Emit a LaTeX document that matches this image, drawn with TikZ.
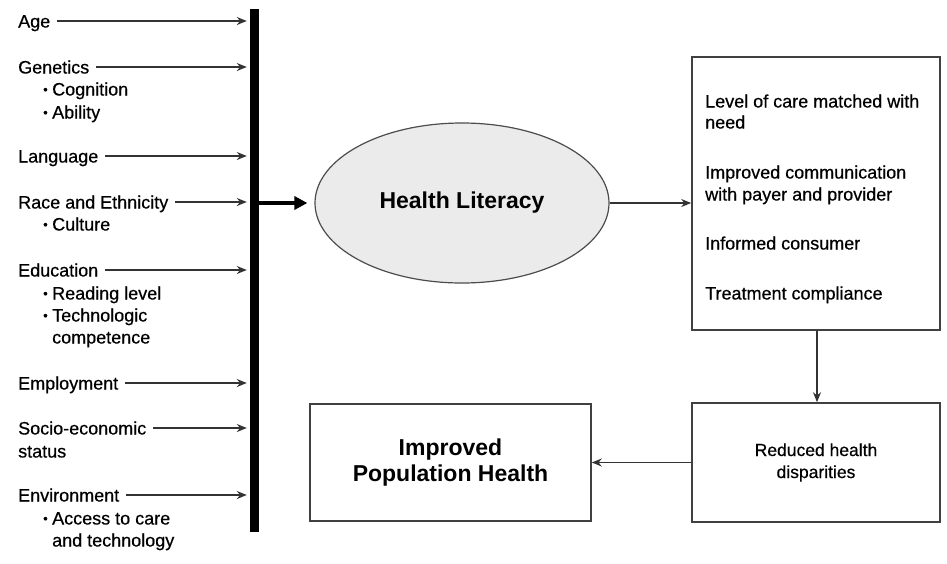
\documentclass[tikz,border=0pt]{standalone}
\usepackage{fontspec}
\setmainfont{Liberation Sans}[UprightFeatures={FakeBold=0.5}]
\usetikzlibrary{arrows.meta,shapes.geometric}
% small bullet for the sub-items of a factor
\newcommand\subbullet{\makebox[9pt][l]{\raisebox{1.5pt}{\fontsize{13}{13}\selectfont\textbullet}}}
\begin{document}
\begin{tikzpicture}[x=1pt,y=-1pt,
  factor/.style={anchor=west,inner sep=0pt,text height=13pt,text depth=0pt,
                 font=\fontsize{18}{22}\selectfont},
  outtext/.style={factor},
  feed/.style={draw=black!80,line width=1.4pt,
               -{Stealth[length=10pt,width=8pt]},shorten <=7pt,shorten >=3pt},
  flow/.style={draw=black!80,line width=1.4pt,-{Stealth[length=10pt,width=8pt]}},
  boxnode/.style={draw=black!75,line width=1.6pt,rectangle,inner sep=0pt,align=center},
]
\useasboundingbox (0,0) rectangle (947,563);
\fill[white] (0,0) rectangle (947,563);

% collecting bar
\node[fill=black,minimum width=9pt,minimum height=523pt,inner sep=0pt,anchor=north]
  (bar) at (254.5,9) {};

% determinants of health literacy
\node[factor] (age)  at (18,21)  {Age};
\node[factor] (gen)  at (18,67)  {Genetics};
\node[factor] (cog)  at (43,89)  {\subbullet Cognition};
\node[factor] (abil) at (43,112) {\subbullet Ability};
\node[factor] (lang) at (18,156) {Language};
\node[factor] (race) at (18,202) {Race and Ethnicity};
\node[factor] (cult) at (43,224) {\subbullet Culture};
\node[factor] (edu)  at (18,270) {Education};
\node[factor] (read) at (43,293) {\subbullet Reading level};
\node[factor] (tech) at (43,315) {\subbullet Technologic};
\node[factor] (comp) at (52,337) {competence};
\node[factor] (emp)  at (18,383) {Employment};
\node[factor] (ses)  at (18,428) {Socio-economic};
\node[factor] (stat) at (18,451) {status};
\node[factor] (env)  at (18,495) {Environment};
\node[factor] (acc)  at (43,518) {\subbullet Access to care};
\node[factor] (andt) at (52,540) {and technology};

\foreach \f in {age,gen,lang,race,edu,emp,ses,env}
  \draw[feed] (\f.east) -- (\f.east -| bar.west);

% central concept
\node[ellipse,draw=black!70,line width=1.2pt,fill=black!8,
      minimum width=294pt,minimum height=160pt,inner sep=0pt,
      font=\bfseries\fontsize{23}{26}\selectfont] (lit) at (462,203) {Health Literacy};

\draw[line width=4pt,-{Triangle[length=13pt,width=13pt]},shorten >=7pt]
  (bar.east |- lit.west) -- (lit.west);

% outcomes
\node[boxnode,minimum width=248pt,minimum height=273pt] (out) at (816,193.5) {};
\node[outtext] (o1a) at (705,101) {Level of care matched with};
\node[outtext] (o1b) at (705,122) {need};
\node[outtext] (o2a) at (705,172) {Improved communication};
\node[outtext] (o2b) at (705,194) {with payer and provider};
\node[outtext] (o3)  at (705,243) {Informed consumer};
\node[outtext] (o4)  at (705,293) {Treatment compliance};

\draw[flow] (lit.east) -- (lit.east -| out.west);

\node[boxnode,minimum width=248pt,minimum height=119pt,
      font=\fontsize{17.5}{22}\selectfont] (disp) at (816,462.5)
  {Reduced health\\disparities};

\node[boxnode,minimum width=281pt,minimum height=117pt,
      font=\bfseries\fontsize{23}{26}\selectfont] (pop) at (450.5,462.5)
  {Improved\\Population Health};

\draw[flow] (out.south -| 817,0) -- (disp.north -| 817,0);
\draw[flow] (disp.west) -- (disp.west -| pop.east);
\end{tikzpicture}
\end{document}
